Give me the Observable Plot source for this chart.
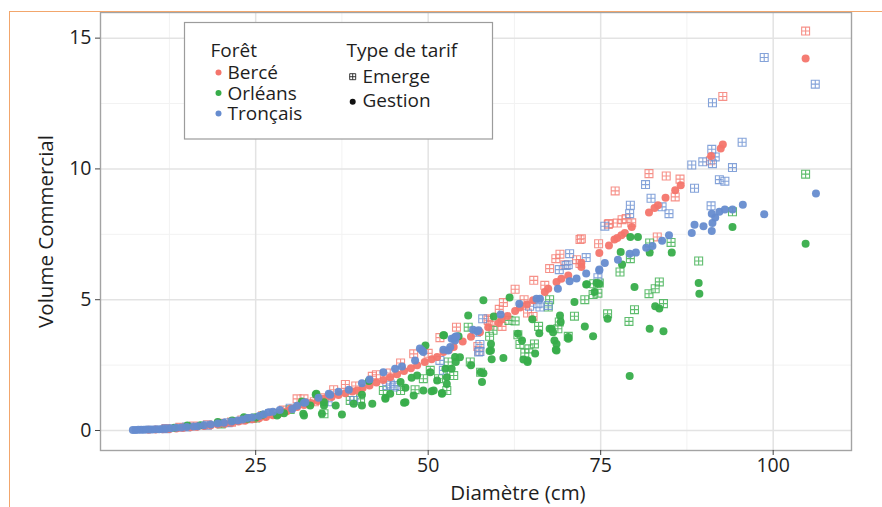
<!DOCTYPE html>
<html>
<head>
<meta charset="utf-8">
<script src="https://cdn.jsdelivr.net/npm/d3@7"></script>
<script src="https://cdn.jsdelivr.net/npm/@observablehq/plot@0.6"></script>
<style>
  html, body { margin: 0; padding: 0; background: white; }
  #wrap { position: relative; width: 882px; height: 507px; overflow: hidden; }
  #border { position: absolute; left: 9px; top: 11px; width: 873px; height: 496px; box-sizing: border-box;
            border-left: 1.5px solid #f2a66c; border-top: 1.5px solid #f2a66c; pointer-events: none; }
  #legend { position: absolute; left: 0; top: 0; pointer-events: none; }
</style>
</head>
<body>
<div id="wrap"></div>
<script>
// ---- categories / labels ----
const forests = ["Bercé", "Orléans", "Tronçais"];
const forestColors = ["#f4756c", "#37ad4a", "#668ccf"];
const tarifs = ["Emerge", "Gestion"];
const xTicks = [25, 50, 75, 100];
const xMinor = [12.5, 37.5, 62.5, 87.5];
const yTicks = [0, 5, 10, 15];
const yMinor = [2.5, 7.5, 12.5];
const xLabel = "Diamètre (cm)";
const yLabel = "Volume Commercial";
const legendTitles = ["Forêt", "Type de tarif"];

// ---- data: [diamètre, volume] ----
const berceGestion = [
  [9.5,0.03],[10.5,0.04],[11.5,0.05],[12.5,0.06],[13.5,0.08],[14.5,0.1],[15.5,0.12],[16.5,0.14],[17.5,0.17],
  [18.5,0.2],[19.5,0.23],[20.5,0.26],[21.5,0.3],[22.5,0.34],[23.5,0.38],[24.5,0.43],[25.5,0.47],[26.5,0.52],
  [27.5,0.58],[28.5,0.66],[29.5,0.74],[30.1,0.84],[31,0.9],[32,0.97],[33,1.05],[34,1.13],[34.9,1.21],[36,1.28],
  [37,1.36],[38,1.42],[39,1.49],[39.7,1.53],[40.5,1.62],[41.5,1.72],[42.5,1.83],[43.5,1.93],[44.5,2.04],[45.5,2.15],
  [46.5,2.27],[47.5,2.38],[48.4,2.49],[49.5,2.62],[50.5,2.72],[51.3,2.81],[52.2,3.0],[53,3.08],[53.7,3.19],
  [55,3.4],[56.2,3.58],[57.5,3.76],[58.7,3.95],[60.2,4.11],[60.6,4.24],[61.5,4.38],[62.6,4.57],[63.3,4.7],
  [64.3,4.82],[65.2,4.98],[66.9,5.29],[67.4,5.42],[68.6,5.68],[69.3,5.8],[70.3,5.93],[72.2,6.25],[72.2,6.4],
  [74.8,6.79],[76.2,7.07],[77,7.3],[77.4,7.36],[78,7.46],[78.5,7.55],[79.5,7.78],[82,8.33],[82.8,8.51],
  [83.3,8.61],[84.4,8.9],[85.8,9.18],[86.6,9.38],[91,10.49],[92.4,10.78],[92.7,10.93],[104.7,14.22]
];
const berceEmerge = [
  [12,0.08],[14,0.12],[16,0.17],[18,0.22],[20,0.28],[21.5,0.32],[23,0.4],[24.5,0.46],[26,0.56],[27.5,0.66],
  [29,0.78],[31,1.21],[32,1.21],[33.5,1.1],[35,1.25],[36.3,1.56],[38,1.76],[39.5,1.7],[41.9,2.07],[42.5,2.13],
  [44.5,2.2],[46,2.58],[47.9,2.93],[50,2.95],[51.7,3.55],[54.1,3.95],[57.2,3.21],[57.4,3.04],[58.7,4.27],
  [58.7,4.21],[59,4.02],[60.3,4.63],[60.7,3.98],[60.9,4.89],[62.6,5.4],[63.9,5.0],[64.4,4.49],[65.2,4.36],
  [65.3,5.74],[66.9,5.55],[67.6,6.19],[68.5,6.57],[69.1,6.74],[69.8,6.34],[71.5,6.53],[72,6.38],[72,7.3],
  [72.2,7.33],[74.7,7.14],[76.1,7.88],[76.2,7.91],[77.1,9.16],[77.4,7.93],[78.1,8.06],[78.7,8.1],[79.5,7.94],
  [82,9.82],[83.2,7.4],[84.5,9.73],[85.8,8.93],[86.5,9.61],[90.9,10.31],[92.7,12.77],[104.7,15.27]
];
const orleansGestion = [
  [13.2,0.1],[15.1,0.19],[17,0.2],[19.5,0.32],[21.6,0.38],[23.3,0.51],[23.8,0.45],[25,0.5],[26,0.6],[28.1,0.57],
  [29.1,0.66],[31.7,1.11],[31.9,0.64],[32,0.57],[32.9,0.96],[33.7,1.38],[33.8,1.4],[34.6,0.64],[34.9,0.96],
  [34.9,1.08],[36.6,0.96],[37.5,0.61],[39.2,1.02],[40.4,0.96],[40.4,1.37],[41.4,1.89],[41.9,1.02],[43.8,1.21],
  [43.8,1.25],[44.5,1.4],[46,1.85],[46.5,1.06],[46.7,1.63],[46.7,1.08],[47.6,2.02],[47.9,1.34],[48.4,2.1],
  [49.3,1.53],[49.6,3.25],[50.3,2.23],[50.5,1.5],[50.8,1.53],[51.3,1.91],[52,1.4],[52,1.43],[52.2,3.64],
  [52.3,3.64],[52.5,2.36],[52.7,2.04],[52.7,1.78],[53.4,2.36],[53.9,2.81],[54,2.62],[54.4,3.6],[54.6,2.8],
  [55.8,4.4],[56.2,2.49],[57.6,2.23],[57.8,1.85],[58,4.98],[58,2.19],[58.9,3.04],[59.1,3.31],[59.1,3.06],
  [59.2,2.72],[59.5,4.36],[60.9,2.77],[61.8,5.08],[63,3.7],[63.6,3.44],[63.8,2.71],[64.4,2.62],[64.4,2.68],
  [65.1,4.25],[65.5,2.94],[66.1,3.72],[67.6,3.89],[67.9,3.89],[68.1,3.76],[68.3,3.44],[68.5,3.09],[68.6,3.31],
  [68.6,3.06],[69.1,4.4],[69.2,4.15],[70.3,3.51],[70.3,3.57],[71.2,4.91],[72.7,3.98],[72.9,5.58],[73,5.59],
  [73.9,3.6],[74.1,5.29],[74.4,5.64],[74.8,5.61],[76,4.27],[77.9,6.82],[78.1,6.35],[79.2,2.08],[79.3,7.4],
  [79.9,5.49],[80.4,7.4],[82.1,6.8],[82.1,3.89],[82.9,4.75],[83.5,4.66],[84.1,3.79],[85.3,6.8],[89.2,5.64],
  [89.3,5.23],[94.1,7.78],[104.7,7.14]
];
const orleansEmerge = [
  [20,0.25],[25,0.48],[28,0.65],[30,0.8],[34.9,0.64],[38.7,1.15],[40.2,1.21],[43.5,1.53],[46,1.53],[48.1,1.56],
  [49.3,1.98],[50.3,2.3],[51.5,1.98],[52.7,1.53],[52.9,2.62],[53.7,2.1],[55.8,3.95],[56.1,2.62],[57.6,2.23],
  [58.9,3.6],[59.4,3.83],[61.7,4.21],[62.6,4.19],[63,3.66],[63.3,3.29],[64,2.96],[64.6,3.12],[65.4,3.31],
  [66,3.98],[67.4,4.72],[67.6,5.0],[68.8,3.89],[69,4.15],[70.3,3.6],[71.2,4.37],[72.7,5.0],[73.9,5.2],
  [74,5.61],[74.6,5.25],[74.8,5.64],[76,4.46],[77.8,6.06],[79.1,4.17],[79.3,6.57],[79.9,4.62],[82,5.23],
  [82.1,7.17],[82.9,5.42],[83.5,5.68],[84.1,4.85],[85.2,7.19],[89.2,6.48],[94.1,8.36],[104.7,9.8]
];
const troncaisGestion = [
  [7.2,0.02],[7.6,0.02],[8,0.03],[8.4,0.03],[8.8,0.03],[9.2,0.04],[9.6,0.04],[10,0.04],[10.5,0.05],[11,0.05],
  [11.5,0.06],[12,0.07],[12.7,0.09],[13.5,0.1],[14.2,0.11],[15,0.13],[16,0.15],[16.6,0.16],[17.5,0.2],[18.5,0.23],
  [19.5,0.27],[20.4,0.3],[21.5,0.34],[22.4,0.38],[23.1,0.42],[23.8,0.48],[24.5,0.5],[25.5,0.55],[26.2,0.62],
  [26.9,0.7],[27.5,0.72],[28.5,0.78],[30.3,0.82],[31,0.95],[32,1.06],[32.2,1.08],[34.1,1.25],[35.6,1.4],
  [35.8,1.37],[37,1.48],[38.5,1.56],[40.4,1.81],[41.5,1.95],[43.5,2.23],[45.2,2.36],[46.2,2.45],[48.1,2.68],
  [48.8,3.13],[49.1,3.06],[49.3,3.0],[52.2,3.09],[52.9,3.06],[53.2,3.19],[53.4,3.51],[53.7,3.51],[53.9,3.44],
  [53.9,3.57],[54.1,3.6],[56.5,3.85],[57.1,3.79],[57.3,3.83],[60.5,4.43],[63.2,4.85],[65.7,5.04],[66.2,5.04],
  [68.8,5.42],[70.5,5.71],[71.5,5.81],[72.9,6.0],[74.8,6.12],[74.8,6.15],[75.6,6.4],[77.5,6.53],[79.2,6.76],
  [80.1,6.8],[81.6,6.99],[82.5,7.05],[83.9,7.25],[84.9,7.46],[88.2,7.55],[88.6,7.87],[89.9,7.81],[91.1,7.63],
  [91.2,7.93],[91.6,8.14],[91.1,8.29],[92.2,8.36],[93,8.45],[94.1,8.45],[95.6,8.63],[98.7,8.27],[106.2,9.06]
];
const troncaisEmerge = [
  [12,0.07],[15,0.13],[18,0.2],[21,0.3],[24,0.45],[27,0.65],[30,0.85],[35.5,1.1],[39.2,1.15],[44,1.72],
  [44.5,1.78],[45,1.66],[45.2,1.72],[51.7,2.68],[52.2,2.3],[57,3.76],[57.3,3.0],[57.5,3.29],[57.5,3.02],
  [57.9,4.27],[64.7,4.75],[65.9,4.85],[66.2,4.72],[67.4,4.78],[69,6.15],[70,6.31],[70.3,6.34],[70.5,6.76],
  [72.9,6.61],[74.6,5.84],[75.6,7.81],[79.2,8.29],[79.3,8.61],[81.5,9.4],[82.3,8.88],[83.9,8.55],[84.9,8.29],
  [88.2,10.15],[88.6,9.26],[89.8,10.27],[91,8.59],[91.1,10.75],[91.2,10.2],[91.2,12.53],[91.6,10.46],
  [92.2,9.59],[93,9.53],[94.1,10.05],[95.5,11.02],[98.7,14.26],[106.1,13.24]
];

// ---- build table ----
const rows = [];
function add(list, foret, tarif) { for (const [d, v] of list) rows.push({d, v, foret, tarif}); }
add(berceEmerge, forests[0], tarifs[0]);
add(orleansEmerge, forests[1], tarifs[0]);
add(troncaisEmerge, forests[2], tarifs[0]);
add(berceGestion, forests[0], tarifs[1]);
add(orleansGestion, forests[1], tarifs[1]);
add(troncaisGestion, forests[2], tarifs[1]);
const emergeRows = rows.filter(r => r.tarif === tarifs[0]);
const gestionRows = rows.filter(r => r.tarif === tarifs[1]);

// square with a cross inside (⊞)
const squarePlus = {
  draw(ctx, size) {
    const h = Math.sqrt(size / Math.PI) * 0.9;
    ctx.moveTo(-h, -h); ctx.lineTo(h, -h); ctx.lineTo(h, h); ctx.lineTo(-h, h); ctx.closePath();
    ctx.moveTo(0, -h); ctx.lineTo(0, h);
    ctx.moveTo(-h, 0); ctx.lineTo(h, 0);
  }
};

const FONT = "'Open Sans', 'Noto Sans', sans-serif";
const TEXT = "#1e1e1e";

const chart = Plot.plot({
  width: 882, height: 507,
  marginLeft: 100, marginRight: 31, marginTop: 12, marginBottom: 57,
  x: {domain: [2.51, 111.35]},
  y: {domain: [-0.765, 15.98]},
  color: {domain: forests, range: forestColors},
  style: {fontFamily: FONT, fontSize: "19.5px", color: TEXT, background: "white"},
  marks: [
    Plot.ruleX(xMinor, {stroke: "#f2f2f2", strokeWidth: 1}),
    Plot.ruleY(yMinor, {stroke: "#f2f2f2", strokeWidth: 1}),
    Plot.ruleX(xTicks, {stroke: "#e3e3e3", strokeWidth: 1.5}),
    Plot.ruleY(yTicks, {stroke: "#e3e3e3", strokeWidth: 1.5}),
    Plot.dot(emergeRows, {x: "d", y: "v", stroke: "foret", symbol: squarePlus, r: 4.4, strokeWidth: 1.1, strokeOpacity: 0.8, fill: "white", fillOpacity: 0.25}),
    Plot.dot(gestionRows, {x: "d", y: "v", fill: "foret", r: 4, fillOpacity: 0.95}),
    Plot.frame({stroke: "#a3a3a3", strokeWidth: 1.4}),
    Plot.axisX({ticks: xTicks, tickSize: 5, tickPadding: 3, label: null, stroke: "#444", fontSize: 19.5}),
    Plot.axisY({ticks: yTicks, tickSize: 5, tickPadding: 4, label: null, stroke: "#444", fontSize: 19.5}),
    Plot.text([xLabel], {frameAnchor: "bottom", dx: 42, dy: 43, fontSize: 20.5, textAnchor: "middle", lineAnchor: "middle", fill: TEXT}),
    Plot.text([yLabel], {frameAnchor: "left", dx: -54, rotate: -90, fontSize: 20.5, textAnchor: "middle", lineAnchor: "middle", fill: TEXT})
  ]
});

const wrap = document.getElementById("wrap");
wrap.appendChild(chart);

// ---- legend ----
const ns = "http://www.w3.org/2000/svg";
const lg = document.createElementNS(ns, "svg");
lg.setAttribute("id", "legend");
lg.setAttribute("width", 882); lg.setAttribute("height", 507);
lg.setAttribute("font-family", FONT);
function el(tag, attrs, text) {
  const e = document.createElementNS(ns, tag);
  for (const k in attrs) e.setAttribute(k, attrs[k]);
  if (text != null) e.textContent = text;
  lg.appendChild(e); return e;
}
el("rect", {x: 184.5, y: 22.5, width: 308, height: 116.5, fill: "white", stroke: "#9c9c9c", "stroke-width": 1.2});
el("text", {x: 210.5, y: 56.7, "font-size": 19, fill: TEXT}, legendTitles[0]);
forests.forEach((f, i) => {
  const by = 79 + i * 20.5;
  el("circle", {cx: 218.5, cy: by - 6.5, r: 3, fill: forestColors[i]});
  el("text", {x: 227.5, y: by, "font-size": 19, fill: TEXT}, f);
});
el("text", {x: 346.5, y: 56.7, "font-size": 19, fill: TEXT}, legendTitles[1]);
// Emerge icon
el("path", {d: "M349.7,73.7h6v6h-6zM352.7,73.7v6M349.7,76.7h6", fill: "none", stroke: "#222", "stroke-width": 0.9});
el("text", {x: 362.5, y: 83.3, "font-size": 19, fill: TEXT}, tarifs[0]);
el("circle", {cx: 352.7, cy: 101.7, r: 3, fill: "#111"});
el("text", {x: 362.5, y: 107, "font-size": 19, fill: TEXT}, tarifs[1]);
wrap.appendChild(lg);

const b = document.createElement("div");
b.id = "border";
wrap.appendChild(b);
</script>
</body>
</html>
